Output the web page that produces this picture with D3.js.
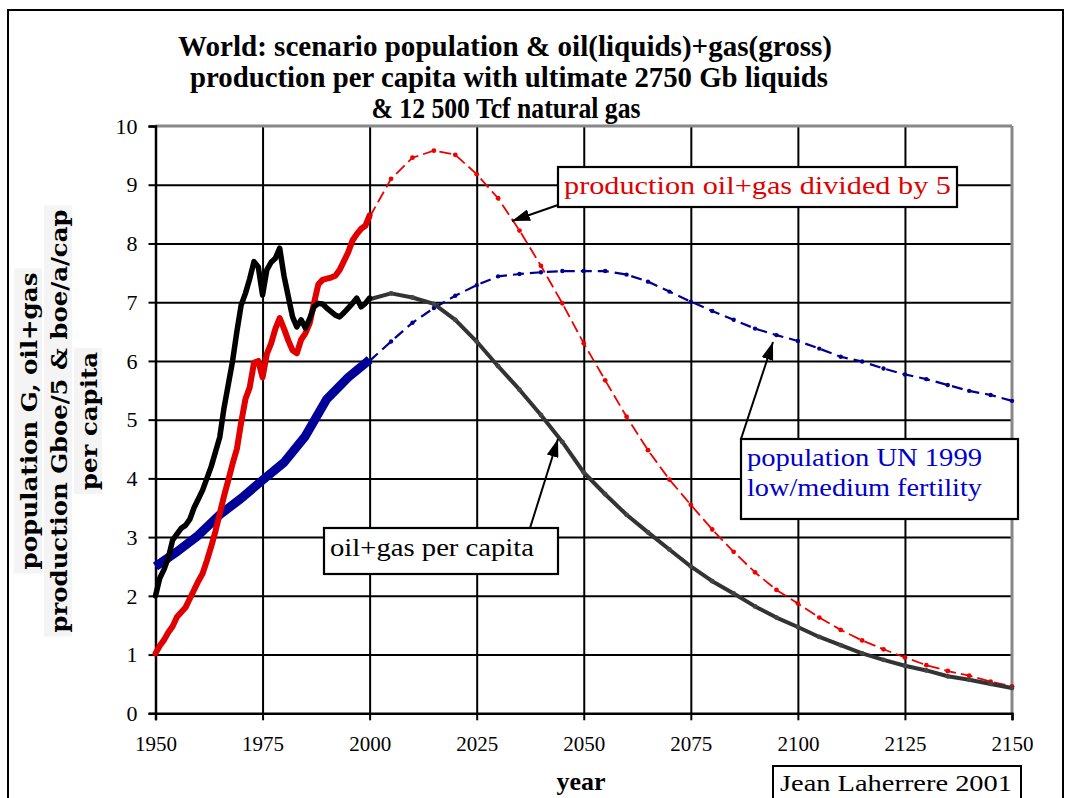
<!DOCTYPE html>
<html><head><meta charset="utf-8">
<script src="https://cdn.jsdelivr.net/npm/d3@7"></script>
<style>body{margin:0;background:#fff}svg{display:block}</style>
</head><body>
<svg id="c" width="1072" height="798"></svg>
<script>
// ---------- data ----------
const titleLines = [
  "World: scenario population & oil(liquids)+gas(gross)",
  "production per capita with ultimate 2750 Gb liquids",
  "& 12 500 Tcf natural gas"
];
const yLabelLines = ["population G, oil+gas", "production Gboe/5 & boe/a/cap", "per capita"];
const xTicks = [1950, 1975, 2000, 2025, 2050, 2075, 2100, 2125, 2150];
const yTicks = [0, 1, 2, 3, 4, 5, 6, 7, 8, 9, 10];

// historical production oil+gas / 5 (red, thick)
const histYearsRed = [1950,1951,1952,1953,1954,1955,1956,1957,1958,1959,1960,1961,1962,1963,1964,1965,1966,1967,1968,1969,1970,1971,1972,1973,1974,1975,1976,1977,1978,1979,1980,1981,1982,1983,1984,1985,1986,1987,1988,1989,1990,1991,1992,1993,1994,1995,1996,1997,1998,1999,2000];
const histRed = [1.02,1.15,1.25,1.38,1.48,1.64,1.72,1.80,1.95,2.10,2.25,2.38,2.60,2.84,3.10,3.40,3.70,3.97,4.25,4.50,4.95,5.35,5.55,5.97,6.00,5.72,6.12,6.30,6.55,6.73,6.55,6.35,6.18,6.13,6.36,6.47,6.64,6.98,7.30,7.38,7.40,7.42,7.45,7.55,7.70,7.85,8.05,8.16,8.25,8.30,8.48];

// historical oil+gas per capita (black, thick)
const histYearsBlack = [1950,1951,1952,1953,1954,1955,1956,1957,1958,1959,1960,1961,1962,1963,1964,1965,1966,1967,1968,1969,1970,1971,1972,1973,1974,1975,1976,1977,1978,1979,1980,1981,1982,1983,1984,1985,1986,1987,1988,1989,1990,1991,1992,1993,1994,1995,1996,1997,1998,1999,2000];
const histBlack = [2.00,2.30,2.45,2.65,2.95,3.05,3.15,3.20,3.30,3.50,3.65,3.80,4.00,4.20,4.45,4.70,5.20,5.60,6.00,6.50,6.95,7.15,7.40,7.69,7.60,7.12,7.55,7.68,7.75,7.92,7.45,7.10,6.75,6.58,6.70,6.56,6.72,6.92,6.98,6.97,6.90,6.84,6.78,6.75,6.82,6.90,6.98,7.07,6.92,6.98,7.07];

// historical population (navy, thick)
const histYearsBlue = [1950,1955,1960,1965,1970,1975,1980,1985,1990,1995,2000];
const histBlue = [2.50,2.75,3.03,3.38,3.66,3.97,4.27,4.72,5.35,5.72,6.02];

// scenario 2000-2150
const futureYears = [2000,2005,2010,2015,2020,2025,2030,2035,2040,2045,2050,2055,2060,2065,2070,2075,2080,2085,2090,2095,2100,2105,2110,2115,2120,2125,2130,2135,2140,2145,2150];
const futureRed = [8.45,9.10,9.46,9.58,9.51,9.18,8.77,8.22,7.62,6.98,6.30,5.67,5.05,4.48,3.98,3.55,3.13,2.75,2.40,2.10,1.87,1.63,1.42,1.24,1.09,0.95,0.82,0.72,0.64,0.54,0.46];
const futureBlack = [7.05,7.15,7.08,6.97,6.70,6.33,5.91,5.51,5.08,4.62,4.10,3.73,3.38,3.08,2.79,2.50,2.25,2.04,1.82,1.63,1.47,1.30,1.16,1.02,0.91,0.81,0.73,0.63,0.57,0.50,0.43];
const futureBlue = [6.00,6.33,6.65,6.90,7.11,7.29,7.44,7.48,7.51,7.53,7.53,7.53,7.47,7.35,7.18,7.01,6.85,6.70,6.55,6.44,6.34,6.21,6.07,5.99,5.87,5.77,5.69,5.59,5.49,5.42,5.32];

const labelRed = "production oil+gas divided by 5";
const labelBlack = "oil+gas per capita";
const labelBlue = ["population UN 1999", "low/medium fertility"];
const xTitle = "year";
const credit = "Jean Laherrere 2001";

// ---------- drawing ----------
const svg = d3.select("#c");
const serif = "'Liberation Serif','Times New Roman',serif";
const L = 155.5, R = 1012, T = 126, B = 713.3;
const x = d3.scaleLinear().domain([1950, 2150]).range([L, R]);
const y = d3.scaleLinear().domain([0, 10]).range([B, T]);

// outer frame
svg.append("rect").attr("x", 8).attr("y", 10).attr("width", 1055).attr("height", 820)
  .attr("fill", "#fff").attr("stroke", "#000").attr("stroke-width", 2);

// title
const titleX = [505, 509, 506], titleW = [654, 638, 269], titleY = [56, 87, 118];
titleLines.forEach((t, i) => {
  svg.append("text").attr("x", titleX[i]).attr("y", titleY[i]).attr("text-anchor", "middle")
    .attr("font-family", serif).attr("font-weight", "bold").attr("font-size", 29)
    .attr("textLength", titleW[i]).attr("lengthAdjust", "spacingAndGlyphs").text(t);
});

// y label
const yLabX = [37, 67, 97], yLabW = [297, 423, 138];
yLabelLines.forEach((t, i) => {
  const g = svg.append("g").attr("transform", `translate(${yLabX[i]},421) rotate(-90)`);
  const tx = g.append("text").attr("x", 0).attr("y", 0).attr("text-anchor", "middle")
    .attr("font-family", "'DejaVu Serif',serif").attr("font-weight", "bold")
    .attr("font-size", 22).attr("textLength", yLabW[i]).attr("lengthAdjust", "spacingAndGlyphs").text(t);
  const bb = tx.node().getBBox();
  g.insert("rect", "text").attr("x", bb.x - 4).attr("y", bb.y - 2).attr("width", bb.width + 8).attr("height", bb.height + 2)
    .attr("fill", "#f4f4f4");
});

// grid
const grid = svg.append("g");
grid.append("g").attr("transform", `translate(${L},0)`)
  .call(d3.axisLeft(y).tickValues(yTicks.slice(1, -1)).tickSize(-(R - L)).tickFormat(""))
  .call(g => g.select(".domain").remove())
  .call(g => g.selectAll("line").attr("stroke", "#000").attr("stroke-width", 2));
grid.append("g").attr("transform", `translate(0,${B})`)
  .call(d3.axisBottom(x).tickValues(xTicks.slice(1, -1)).tickSize(-(B - T)).tickFormat(""))
  .call(g => g.select(".domain").remove())
  .call(g => g.selectAll("line").attr("stroke", "#000").attr("stroke-width", 2));

// plot border (top/right grey)
svg.append("line").attr("x1", L).attr("x2", R).attr("y1", T).attr("y2", T).attr("stroke", "#888").attr("stroke-width", 3);
svg.append("line").attr("x1", R).attr("x2", R).attr("y1", T).attr("y2", B).attr("stroke", "#888").attr("stroke-width", 3);

// axes
const yAxis = svg.append("g").attr("transform", `translate(${L},0)`)
  .call(d3.axisLeft(y).tickValues(yTicks).tickSize(7).tickPadding(11).tickFormat(d3.format("d")));
yAxis.select(".domain").attr("stroke", "#000").attr("stroke-width", 2.5);
yAxis.selectAll("line").attr("stroke", "#000").attr("stroke-width", 2);
yAxis.selectAll("text").attr("font-family", serif).attr("font-size", 22).attr("fill", "#000").attr("dy", "0.33em");

const xAxis = svg.append("g").attr("transform", `translate(0,${B})`)
  .call(d3.axisBottom(x).tickValues(xTicks).tickSize(7).tickPadding(16).tickFormat(d3.format("d")));
xAxis.select(".domain").attr("stroke", "#000").attr("stroke-width", 2.5);
xAxis.selectAll("line").attr("stroke", "#000").attr("stroke-width", 2);
xAxis.selectAll("text").attr("font-family", serif).attr("font-size", 21).attr("fill", "#000");

svg.append("text").attr("x", 581).attr("y", 790).attr("text-anchor", "middle")
  .attr("font-family", serif).attr("font-weight", "bold").attr("font-size", 26).text(xTitle);

// credit box
svg.append("rect").attr("x", 773).attr("y", 766).attr("width", 248).attr("height", 50)
  .attr("fill", "#fff").attr("stroke", "#000").attr("stroke-width", 2);
svg.append("text").attr("x", 780).attr("y", 791).attr("font-family", serif).attr("font-size", 24)
  .attr("textLength", 232).attr("lengthAdjust", "spacingAndGlyphs").text(credit);

// lines
const line = d3.line().x(d => x(d[0])).y(d => y(d[1]));
const zip = (a, b) => a.map((v, i) => [v, b[i]]);

// scenario lines
svg.append("path").datum(zip(futureYears, futureBlue)).attr("d", line)
  .attr("fill", "none").attr("stroke", "#000090").attr("stroke-width", 2.2).attr("stroke-dasharray", "11,6");
svg.append("g").selectAll("circle").data(zip(futureYears, futureBlue)).join("circle")
  .attr("cx", d => x(d[0])).attr("cy", d => y(d[1])).attr("r", 2.2).attr("fill", "#000090");

svg.append("path").datum(zip(futureYears, futureRed)).attr("d", line)
  .attr("fill", "none").attr("stroke", "#ee0000").attr("stroke-width", 1.8).attr("stroke-dasharray", "12,5");
svg.append("g").selectAll("circle").data(zip(futureYears, futureRed)).join("circle")
  .attr("cx", d => x(d[0])).attr("cy", d => y(d[1])).attr("r", 2.4).attr("fill", "#ee0000");

svg.append("path").datum(zip(futureYears, futureBlack)).attr("d", line)
  .attr("fill", "none").attr("stroke", "#333").attr("stroke-width", 4).attr("stroke-linejoin", "round");
svg.append("g").selectAll("circle").data(zip(futureYears, futureBlack)).join("circle")
  .attr("cx", d => x(d[0])).attr("cy", d => y(d[1])).attr("r", 2.4).attr("fill", "#444");

// historical lines
svg.append("path").datum(zip(histYearsBlue, histBlue)).attr("d", line)
  .attr("fill", "none").attr("stroke", "#000099").attr("stroke-width", 9).attr("stroke-linejoin", "round");
svg.append("path").datum(zip(histYearsRed, histRed)).attr("d", line)
  .attr("fill", "none").attr("stroke", "#e00000").attr("stroke-width", 6).attr("stroke-linejoin", "round").attr("stroke-linecap", "round");
svg.append("path").datum(zip(histYearsBlack, histBlack)).attr("d", line)
  .attr("fill", "none").attr("stroke", "#000").attr("stroke-width", 5.5).attr("stroke-linejoin", "round").attr("stroke-linecap", "round");

// arrows
const defs = svg.append("defs");
defs.append("marker").attr("id", "ah").attr("viewBox", "0 0 18 12").attr("refX", 18).attr("refY", 6)
  .attr("markerWidth", 18).attr("markerHeight", 12).attr("markerUnits", "userSpaceOnUse").attr("orient", "auto")
  .append("path").attr("d", "M0,0 L18,6 L0,12 Z").attr("fill", "#000");
const arrows = [[558, 205, 512, 221], [530, 528, 558, 439], [741, 439, 773, 342]];
arrows.forEach(a => svg.append("line").attr("x1", a[0]).attr("y1", a[1]).attr("x2", a[2]).attr("y2", a[3])
  .attr("stroke", "#000").attr("stroke-width", 2).attr("marker-end", "url(#ah)"));

// label boxes
function box(x0, y0, w, h) {
  svg.append("rect").attr("x", x0).attr("y", y0).attr("width", w).attr("height", h)
    .attr("fill", "#fff").attr("stroke", "#000").attr("stroke-width", 2.2);
}
box(558, 167, 399, 40);
svg.append("text").attr("x", 564).attr("y", 194).attr("font-family", serif).attr("font-size", 26)
  .attr("fill", "#e00000").attr("textLength", 387).attr("lengthAdjust", "spacingAndGlyphs").text(labelRed);

box(324, 528, 234, 46);
svg.append("text").attr("x", 330).attr("y", 556).attr("font-family", serif).attr("font-size", 26)
  .attr("fill", "#000").attr("textLength", 204).attr("lengthAdjust", "spacingAndGlyphs").text(labelBlack);

box(741, 439, 277, 80);
labelBlue.forEach((t, i) => svg.append("text").attr("x", 747).attr("y", 466 + i * 30).attr("font-family", serif)
  .attr("font-size", 26).attr("fill", "#0000cc").attr("textLength", 235).attr("lengthAdjust", "spacingAndGlyphs").text(t));
</script>
</body></html>
